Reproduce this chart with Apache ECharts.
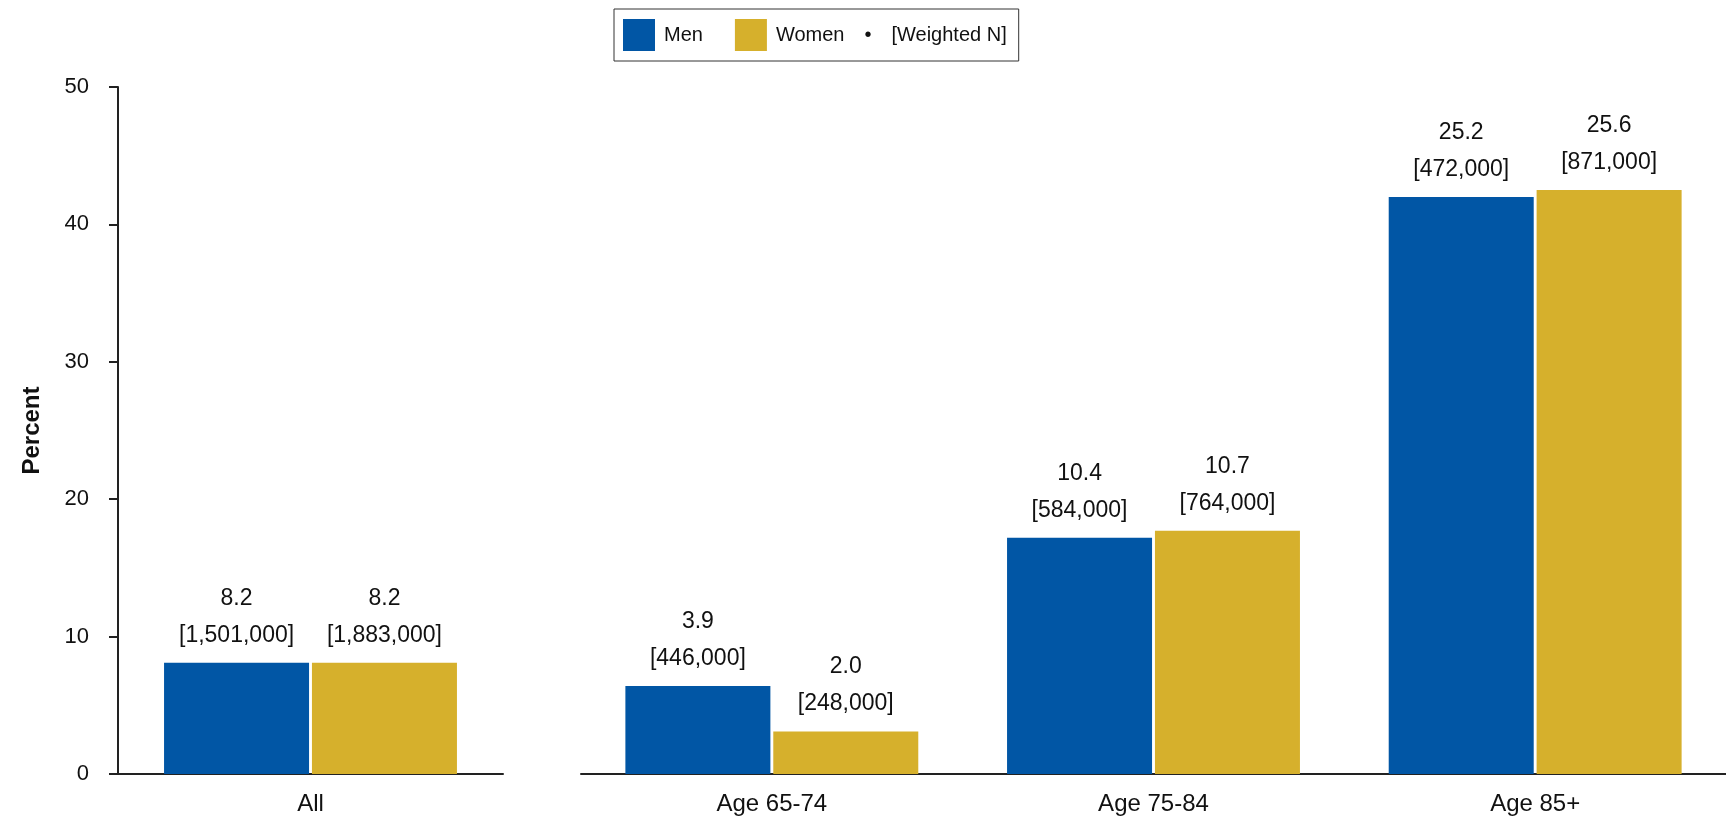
<!DOCTYPE html>
<html>
<head>
<meta charset="utf-8">
<script src="https://cdn.jsdelivr.net/npm/echarts@6/dist/echarts.min.js"></script>
<style>
  html, body { margin: 0; padding: 0; background: #fff; }
  #chart1 { width: 1726px; height: 818px; }
</style>
</head>
<body>
<div id="chart1"></div>
<script>
var categories = ['All', 'Age 65-74', 'Age 75-84', 'Age 85+'];
// bar heights as drawn on the axis
var menBar = [8.1, 6.4, 17.2, 42.0];
var womenBar = [8.1, 3.1, 17.7, 42.5];
// printed labels
var menPct = ['8.2', '3.9', '10.4', '25.2'];
var womenPct = ['8.2', '2.0', '10.7', '25.6'];
var menN = ['1,501,000', '446,000', '584,000', '472,000'];
var womenN = ['1,883,000', '248,000', '764,000', '871,000'];
var yTicks = [0, 10, 20, 30, 40, 50];

var FONT = "'Liberation Sans', Arial, sans-serif";
var BLUE = '#0156a5';
var GOLD = '#d6b02c';

function barLabel(pct, n, offset) {
    return {
        show: true,
        position: 'top',
        distance: 9,
        fontFamily: FONT,
        fontSize: 23,
        lineHeight: 37,
        color: '#111',
        formatter: function(p) {
            var i = p.dataIndex + offset;
            return pct[i] + '\n[' + n[i] + ']';
        }
    };
}

function initChart(el) {
    var _chart1 = echarts.init(el);
    var yMin = yTicks[0], yMax = yTicks[yTicks.length - 1];
    var option = {
        animation: false,
        textStyle: { fontFamily: FONT },
        legend: {
            left: 614,
            top: 9,
            padding: [10, 12, 10, 9],
            borderColor: '#333',
            borderWidth: 1,
            itemWidth: 32,
            itemHeight: 32,
            itemGap: 32,
            icon: 'rect',
            data: ['Men', 'Women'],
            textStyle: {
                fontFamily: FONT,
                fontSize: 20,
                color: '#111',
                padding: [0, 0, 0, 4],
                rich: {
                    dot: { fontFamily: FONT, fontSize: 20, color: '#111', padding: [0, 20, 0, 20] }
                }
            },
            formatter: function(name) {
                if (name === 'Women') {
                    return 'Women{dot|•}[Weighted N]';
                }
                return name;
            }
        },
        grid: [
            { left: 118, width: 385, top: 87, height: 687 },
            { left: 581, width: 1152, top: 87, height: 687 }
        ],
        xAxis: [{
            type: 'category',
            gridIndex: 0,
            data: categories.slice(0, 1),
            axisLine: { lineStyle: { color: '#222', width: 2 } },
            axisTick: { show: false },
            axisLabel: { fontFamily: FONT, fontSize: 24, color: '#111', margin: 18 }
        }, {
            type: 'category',
            gridIndex: 1,
            data: categories.slice(1),
            axisLine: { lineStyle: { color: '#222', width: 2 } },
            axisTick: { show: false },
            axisLabel: { fontFamily: FONT, fontSize: 24, color: '#111', margin: 18 }
        }],
        yAxis: [{
            type: 'value',
            gridIndex: 0,
            min: yMin,
            max: yMax,
            interval: 10,
            name: 'Percent',
            nameLocation: 'middle',
            nameRotate: 90,
            nameGap: 74,
            nameTextStyle: { fontFamily: FONT, fontSize: 24, fontWeight: 'bold', color: '#111' },
            axisLine: { show: true, lineStyle: { color: '#222', width: 2 } },
            axisTick: { show: true, length: 9, lineStyle: { color: '#222', width: 2 } },
            axisLabel: { fontFamily: FONT, fontSize: 22, color: '#111', margin: 29 },
            splitLine: { show: false }
        }, {
            type: 'value',
            gridIndex: 1,
            min: yMin,
            max: yMax,
            interval: 10,
            show: false,
            splitLine: { show: false }
        }],
        series: [{
            name: 'Men', type: 'bar', xAxisIndex: 0, yAxisIndex: 0,
            data: menBar.slice(0, 1), barWidth: 145, barGap: '2%',
            itemStyle: { color: BLUE }, label: barLabel(menPct, menN, 0)
        }, {
            name: 'Women', type: 'bar', xAxisIndex: 0, yAxisIndex: 0,
            data: womenBar.slice(0, 1), barWidth: 145, barGap: '2%',
            itemStyle: { color: GOLD }, label: barLabel(womenPct, womenN, 0)
        }, {
            name: 'Men', type: 'bar', xAxisIndex: 1, yAxisIndex: 1,
            data: menBar.slice(1), barWidth: 145, barGap: '2%',
            itemStyle: { color: BLUE }, label: barLabel(menPct, menN, 1)
        }, {
            name: 'Women', type: 'bar', xAxisIndex: 1, yAxisIndex: 1,
            data: womenBar.slice(1), barWidth: 145, barGap: '2%',
            itemStyle: { color: GOLD }, label: barLabel(womenPct, womenN, 1)
        }]
    };
    _chart1.setOption(option);
}

initChart(document.getElementById('chart1'));
</script>
</body>
</html>
